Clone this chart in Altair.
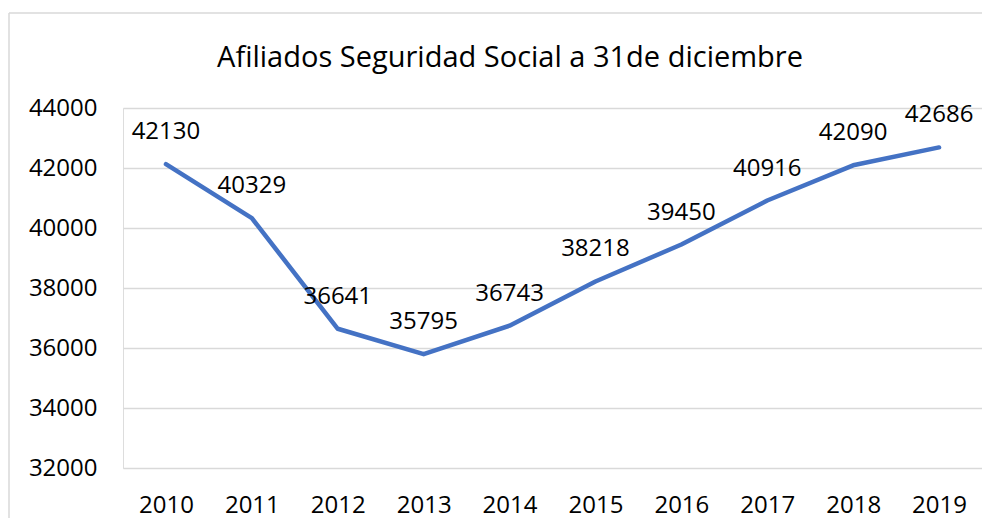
import altair as alt
import pandas as pd

years = ["2010", "2011", "2012", "2013", "2014", "2015", "2016", "2017", "2018", "2019"]
afiliados = [42130, 40329, 36641, 35795, 36743, 38218, 39450, 40916, 42090, 42686]
title_text = "Afiliados Seguridad Social a 31de diciembre"
y_ticks = [32000, 34000, 36000, 38000, 40000, 42000, 44000]

df = pd.DataFrame({"year": years, "value": afiliados})

FONT = "Open Sans"

x_enc = alt.X("year:N", sort=years, title=None,
              scale=alt.Scale(paddingInner=0, paddingOuter=0.5),
              axis=alt.Axis(labelAngle=0, labelFontSize=24, labelFont=FONT,
                            labelColor="#000000", ticks=False, domain=False,
                            labelPadding=25, grid=False))
y_enc = alt.Y("value:Q", title=None,
              scale=alt.Scale(domain=[32000, 44000], nice=False, zero=False),
              axis=alt.Axis(values=y_ticks, format="d", labelFontSize=24, labelFont=FONT,
                            labelColor="#000000", ticks=False, domain=False,
                            labelPadding=26, grid=True, gridColor="#d9d9d9",
                            gridWidth=1.5))

base = alt.Chart(df)

line = base.mark_line(color="#4472C4", strokeWidth=4.5, strokeCap="round",
                      strokeJoin="round").encode(x=x_enc, y=y_enc)

labels = base.mark_text(dy=-32, fontSize=24, font=FONT, color="#000000",
                        align="center", baseline="middle").encode(
    x=alt.X("year:N", sort=years), y=alt.Y("value:Q"), text=alt.Text("value:Q", format="d"))

aux = alt.Chart(pd.DataFrame({"t": [title_text]}))

frame_top = aux.mark_rule(color="#d9d9d9", strokeWidth=1.5).encode(
    x=alt.value(-114), x2=alt.value(859), y=alt.value(-95))
frame_left = aux.mark_rule(color="#d9d9d9", strokeWidth=1.5).encode(
    x=alt.value(-114), y=alt.value(-95), y2=alt.value(410))

title = aux.mark_text(font=FONT, fontSize=29, color="#000000", align="center",
                      baseline="middle").encode(
    x=alt.value(387), y=alt.value(-50), text="t:N")

chart = alt.layer(frame_top, frame_left, line, labels, title).properties(
    width=859, height=360,
    autosize=alt.AutoSizeParams(type="none"),
    padding={"left": 115, "top": 100, "right": 0, "bottom": 52},
).configure_view(stroke="transparent", strokeWidth=0).configure(background="#ffffff")

chart.save("out.html", embed_options={"renderer": "svg", "actions": False})
